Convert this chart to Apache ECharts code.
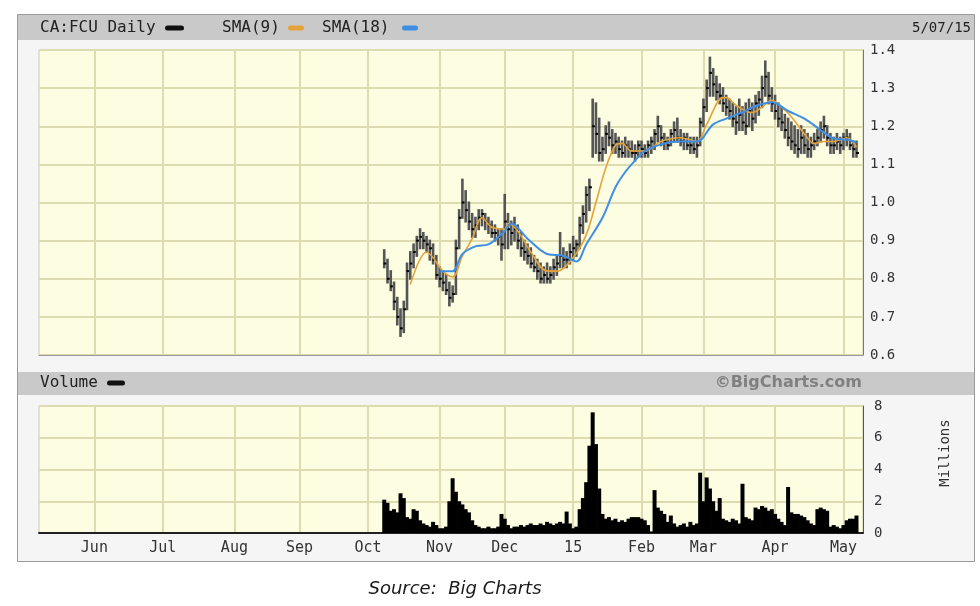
<!DOCTYPE html>
<html><head><meta charset="utf-8">
<script src="https://cdn.jsdelivr.net/npm/echarts@6/dist/echarts.min.js"></script>
<style>html,body{margin:0;padding:0;background:#fff}#c{width:980px;height:606px}</style>
</head><body><div id="c"></div><script>
// ---- axis categories (TSX trading days) ----
const axisStart = '2014-05-07', axisEnd = '2015-05-11';
const holidays = ['2014-05-19','2014-07-01','2014-08-04','2014-09-01','2014-10-13','2014-12-25','2014-12-26','2015-01-01','2015-02-16','2015-04-03'];
const monthTicks = ['Jun','Jul','Aug','Sep','Oct','Nov','Dec','15','Feb','Mar','Apr','May'];
const priceTicks = [0.6,0.7,0.8,0.9,1.0,1.1,1.2,1.3,1.4];
const volumeTicks = [0,2,4,6,8];
const priceStart = '2014-10-08';

// ---- daily price bars (high / low / close) ----
const hi = [
.875,.85,.82,.79,.75,.72,.74,.84,.87,.89,
.91,.93,.92,.91,.90,.89,.86,.83,.82,.81,
.79,.78,.90,.98,1.06,1.03,1.00,.97,.96,.98,
.98,.97,.96,.95,.94,.93,.93,1.02,.97,.95,
.96,.94,.92,.90,.89,.88,.86,.85,.84,.83,
.84,.83,.85,.86,.92,.88,.87,.89,.91,.90,
.96,.99,1.04,1.06,1.27,1.26,1.22,1.17,1.20,1.21,
1.19,1.18,1.17,1.16,1.17,1.16,1.16,1.15,1.16,1.16,
1.15,1.16,1.17,1.19,1.225,1.20,1.18,1.17,1.19,1.21,
1.22,1.19,1.18,1.18,1.17,1.17,1.17,1.22,1.27,1.32,
1.38,1.35,1.33,1.31,1.30,1.28,1.27,1.26,1.25,1.27,
1.25,1.26,1.27,1.26,1.28,1.29,1.33,1.37,1.34,1.30,
1.28,1.26,1.25,1.23,1.22,1.21,1.20,1.19,1.20,1.19,
1.18,1.17,1.18,1.19,1.21,1.225,1.20,1.18,1.17,1.18,
1.17,1.18,1.19,1.18,1.16,1.16];
const lo = [
.83,.79,.77,.72,.68,.65,.66,.72,.80,.83,
.86,.88,.88,.87,.85,.84,.80,.78,.77,.76,
.73,.74,.76,.88,.96,.95,.93,.91,.91,.93,
.94,.93,.92,.91,.90,.89,.85,.88,.88,.89,
.90,.88,.86,.85,.84,.83,.82,.80,.79,.79,
.79,.79,.80,.81,.83,.83,.83,.84,.85,.86,
.88,.92,.95,.98,1.12,1.13,1.11,1.11,1.13,1.15,
1.13,1.13,1.12,1.12,1.12,1.12,1.12,1.11,1.12,1.12,
1.12,1.12,1.13,1.14,1.16,1.15,1.14,1.14,1.15,1.16,
1.16,1.15,1.14,1.14,1.13,1.13,1.12,1.15,1.20,1.24,
1.28,1.28,1.27,1.26,1.24,1.23,1.22,1.20,1.18,1.19,
1.19,1.18,1.20,1.19,1.21,1.23,1.25,1.28,1.26,1.24,
1.22,1.20,1.19,1.17,1.15,1.14,1.13,1.12,1.13,1.13,
1.12,1.12,1.14,1.15,1.16,1.17,1.15,1.13,1.13,1.14,
1.13,1.14,1.15,1.14,1.12,1.12];
const cl = [
.84,.80,.78,.74,.70,.67,.72,.82,.84,.87,
.90,.91,.90,.89,.88,.85,.81,.80,.79,.77,
.75,.76,.88,.96,1.00,.98,.95,.93,.94,.96,
.97,.95,.94,.92,.92,.91,.89,.95,.93,.92,
.93,.90,.88,.87,.86,.84,.83,.82,.80,.81,
.80,.81,.83,.84,.86,.85,.85,.87,.88,.89,
.94,.97,1.02,1.04,1.20,1.18,1.13,1.14,1.18,1.17,
1.15,1.16,1.14,1.13,1.15,1.14,1.13,1.13,1.15,1.14,
1.13,1.15,1.16,1.18,1.20,1.17,1.16,1.15,1.18,1.19,
1.17,1.16,1.17,1.15,1.15,1.14,1.15,1.21,1.25,1.30,
1.34,1.31,1.29,1.28,1.26,1.25,1.24,1.22,1.21,1.23,
1.21,1.20,1.24,1.22,1.26,1.27,1.30,1.33,1.28,1.26,
1.24,1.22,1.21,1.19,1.17,1.16,1.15,1.14,1.17,1.15,
1.14,1.15,1.16,1.17,1.19,1.20,1.17,1.15,1.15,1.16,
1.15,1.17,1.17,1.15,1.14,1.13];

// ---- moving averages (day offset from priceStart, value) ----
const sma9Days = [8,13,15,18,21,24,27,30,33,37,38,41,45,50,53,58,62,65,68,71,73,76,80,85,91,96,99,104,105,108,111,113,116,119,122,125,129,132,135,138,142,145];
const sma9Vals = [0.785,0.87,0.855,0.82,0.805,0.86,0.905,0.96,0.935,0.93,0.945,0.925,0.87,0.82,0.82,0.855,0.915,1.0,1.09,1.15,1.155,1.135,1.135,1.16,1.17,1.16,1.205,1.275,1.275,1.255,1.24,1.236,1.25,1.268,1.25,1.225,1.18,1.155,1.16,1.16,1.17,1.145];
const sma18Days = [17,21,24,28,32,37,39,44,50,55,59,62,67,71,74,77,80,86,91,96,101,105,111,113,119,124,129,134,138,142,145];
const sma18Vals = [0.82,0.82,0.865,0.885,0.89,0.925,0.945,0.905,0.865,0.86,0.845,0.89,0.96,1.04,1.08,1.11,1.135,1.155,1.16,1.16,1.205,1.22,1.24,1.25,1.263,1.24,1.22,1.19,1.168,1.165,1.157];

// ---- daily volume, millions ----
const vol = [
2.1,1.9,1.4,1.5,1.3,2.5,2.2,1.0,0.9,1.5,
1.4,0.8,0.6,0.5,0.4,0.7,0.5,0.3,0.3,0.4,
2.0,3.45,2.6,2.0,1.8,1.5,1.3,0.8,0.5,0.4,
0.3,0.3,0.4,0.3,0.3,0.4,1.2,0.9,0.5,0.3,
0.4,0.4,0.5,0.4,0.5,0.6,0.5,0.5,0.6,0.5,
0.7,0.6,0.5,0.6,0.7,0.6,1.35,0.6,0.3,0.4,
1.5,2.2,3.2,5.5,7.6,5.6,2.8,1.2,0.9,1.0,
0.8,0.9,0.7,0.8,0.7,0.9,1.0,1.0,1.0,0.9,
0.8,0.5,0.1,2.7,1.6,1.4,1.2,0.7,1.1,0.6,
0.4,0.5,0.6,0.4,0.7,0.5,0.6,3.8,2.0,3.5,
2.8,2.0,1.4,2.2,0.9,0.8,0.7,0.9,0.8,0.6,
3.1,1.0,0.9,0.8,1.6,1.5,1.7,1.6,1.4,1.5,
1.2,0.9,0.7,0.5,2.9,1.3,1.2,1.2,1.1,1.0,
0.8,0.6,0.5,1.5,1.6,1.5,1.4,0.4,0.5,0.4,
0.3,0.5,0.8,0.9,0.9,1.1];

// ---- build ----
function tradingDays(a, b, hol) {
  const out = []; const d = new Date(a + 'T00:00:00Z'); const end = new Date(b + 'T00:00:00Z');
  while (d <= end) { const w = d.getUTCDay(); const s = d.toISOString().slice(0, 10);
    if (w !== 0 && w !== 6 && !hol.includes(s)) out.push(s); d.setUTCDate(d.getUTCDate() + 1); }
  return out;
}
const dates = tradingDays(axisStart, axisEnd, holidays);
const tickLabel = {}; let mi = 0;
for (let i = 1; i < dates.length; i++) if (dates[i].slice(5, 7) !== dates[i - 1].slice(5, 7)) tickLabel[i] = monthTicks[mi++];
const isTick = (i) => tickLabel[i] !== undefined;
const s0 = dates.indexOf(priceStart);
const hlc = hi.map((h, k) => [s0 + k, lo[k], h, cl[k]]);
const sma9 = sma9Days.map((k, j) => [s0 + k, sma9Vals[j]]);
const sma18 = sma18Days.map((k, j) => [s0 + k, sma18Vals[j]]);
const volData = dates.map((d, i) => (i >= s0 && i - s0 < vol.length) ? vol[i - s0] : '-');

const gridCol = '#dcdcb0';
const mono = 'DejaVu Sans Mono';
const chart = echarts.init(document.getElementById('c'), null, {renderer: 'canvas'});
const txt = (x, y, t, o) => Object.assign({type: 'text', x, y, z: 10, style: Object.assign({text: t, fill: '#222', font: '16px "' + mono + '"', verticalAlign: 'middle', align: 'left'}, o || {})});
const sw = (x, y, w, c) => ({type: 'rect', z: 10, shape: {x, y, width: w, height: 5, r: 2.5}, style: {fill: c}});

chart.setOption({
  backgroundColor: '#ffffff',
  animation: false,
  graphic: [
    {type: 'rect', z: -10, shape: {x: 17.5, y: 14.5, width: 957, height: 547}, style: {fill: '#f5f5f5', stroke: '#9a9a9a', lineWidth: 1}},
    {type: 'rect', z: -9, shape: {x: 18, y: 15, width: 956, height: 25}, style: {fill: '#c9c9c9'}},
    {type: 'rect', z: -9, shape: {x: 18, y: 372, width: 956, height: 23}, style: {fill: '#c9c9c9'}},
    txt(40, 28, 'CA:FCU Daily'), sw(165, 25.5, 19, '#111'),
    txt(222, 28, 'SMA(9)'), sw(288, 25.5, 16, '#e3a33a'),
    txt(322, 28, 'SMA(18)'), sw(402, 25.5, 16, '#3d8fe6'),
    txt(971, 28, '5/07/15', {align: 'right', font: '14px "' + mono + '"'}),
    txt(40, 383, 'Volume'), sw(107, 380.5, 18, '#111'),
    txt(862, 383, '\u00A9BigCharts.com', {align: 'right', fill: '#808080', font: 'bold 16px "DejaVu Sans"'}),
    {type: 'text', x: 945, y: 453, rotation: Math.PI / 2, z: 10, style: {text: 'Millions', fill: '#333', font: '14px "' + mono + '"', align: 'center', verticalAlign: 'middle'}},
    {type: 'text', x: 455, y: 589, z: 10, style: {text: 'Source:  Big Charts', fill: '#1a1a1a', font: 'italic 18px "DejaVu Sans"', align: 'center', verticalAlign: 'middle'}}
  ],
  grid: [
    {left: 39, top: 50, width: 824, height: 305, show: true, backgroundColor: '#fdfde1', borderColor: '#c8c8b0', borderWidth: 1},
    {left: 39, top: 406, width: 824, height: 127, show: true, backgroundColor: '#fdfde1', borderColor: '#c8c8b0', borderWidth: 1}
  ],
  xAxis: [
    {type: 'category', gridIndex: 0, data: dates, boundaryGap: false,
     axisLine: {show: true, lineStyle: {color: '#999', width: 1}}, axisTick: {show: false}, axisLabel: {show: false},
     splitLine: {show: true, interval: isTick, lineStyle: {color: gridCol, width: 2}}},
    {type: 'category', gridIndex: 1, data: dates, boundaryGap: false,
     axisLine: {show: true, lineStyle: {color: '#222', width: 2}}, axisTick: {show: false},
     axisLabel: {interval: isTick, formatter: (v, i) => tickLabel[i] || '', margin: 8, color: '#333', fontFamily: mono, fontSize: 15},
     splitLine: {show: true, interval: isTick, lineStyle: {color: gridCol, width: 2}}}
  ],
  yAxis: [
    {type: 'value', gridIndex: 0, position: 'right', min: priceTicks[0], max: priceTicks[priceTicks.length - 1], interval: 0.1,
     axisLine: {show: true, lineStyle: {color: '#777'}}, axisTick: {show: false},
     axisLabel: {formatter: v => v.toFixed(1), margin: 7, color: '#333', fontFamily: mono, fontSize: 14},
     splitLine: {show: true, lineStyle: {color: gridCol, width: 2}}},
    {type: 'value', gridIndex: 1, position: 'right', min: volumeTicks[0], max: volumeTicks[volumeTicks.length - 1], interval: 2,
     axisLine: {show: true, lineStyle: {color: '#555'}}, axisTick: {show: false},
     axisLabel: {margin: 11, color: '#333', fontFamily: mono, fontSize: 14},
     splitLine: {show: true, lineStyle: {color: gridCol, width: 2}}}
  ],
  series: [
    {type: 'custom', xAxisIndex: 0, yAxisIndex: 0, z: 3, data: hlc, encode: {x: 0, y: [1, 2, 3]},
     renderItem: function (params, api) {
       const i = api.value(0);
       const pLo = api.coord([i, api.value(1)]);
       const pHi = api.coord([i, api.value(2)]);
       const pCl = api.coord([i, api.value(3)]);
       return {type: 'group', children: [
         {type: 'line', shape: {x1: pHi[0], y1: pHi[1] - 1, x2: pLo[0], y2: pLo[1] + 1}, style: {stroke: '#555', lineWidth: 2.6}},
         {type: 'line', shape: {x1: pCl[0] - 0.5, y1: pCl[1], x2: pCl[0] + 2.5, y2: pCl[1]}, style: {stroke: '#000', lineWidth: 2}}
       ]};
     }},
    {type: 'line', name: 'SMA(9)', xAxisIndex: 0, yAxisIndex: 0, z: 5, data: sma9, showSymbol: false, smooth: 0.35,
     lineStyle: {color: '#e3a33a', width: 1.6}},
    {type: 'line', name: 'SMA(18)', xAxisIndex: 0, yAxisIndex: 0, z: 6, data: sma18, showSymbol: false, smooth: 0.35,
     lineStyle: {color: '#3d8fe6', width: 2}},
    {type: 'bar', xAxisIndex: 1, yAxisIndex: 1, data: volData, barWidth: 4, barCategoryGap: '0%',
     itemStyle: {color: '#000'}}
  ]
});
</script></body></html>
